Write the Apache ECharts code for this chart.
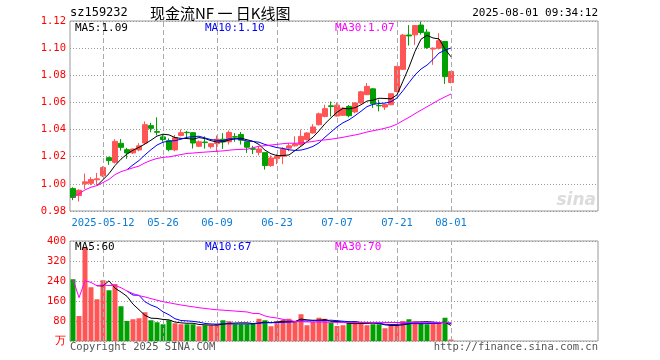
<!DOCTYPE html>
<html><head><meta charset="utf-8">
<script src="https://cdn.jsdelivr.net/npm/echarts@6/dist/echarts.min.js"></script>
<style>html,body{margin:0;padding:0;background:#fff}#c{width:660px;height:360px}</style>
</head><body><div id="c"></div>
<script>
const dates = ['2025-04-30','2025-05-06','2025-05-07','2025-05-08','2025-05-09',
'2025-05-12','2025-05-13','2025-05-14','2025-05-15','2025-05-16',
'2025-05-19','2025-05-20','2025-05-21','2025-05-22','2025-05-23',
'2025-05-26','2025-05-27','2025-05-28','2025-05-29','2025-05-30',
'2025-06-03','2025-06-04','2025-06-05','2025-06-06',
'2025-06-09','2025-06-10','2025-06-11','2025-06-12','2025-06-13',
'2025-06-16','2025-06-17','2025-06-18','2025-06-19','2025-06-20',
'2025-06-23','2025-06-24','2025-06-25','2025-06-26','2025-06-27',
'2025-06-30','2025-07-01','2025-07-02','2025-07-03','2025-07-04',
'2025-07-07','2025-07-08','2025-07-09','2025-07-10','2025-07-11',
'2025-07-14','2025-07-15','2025-07-16','2025-07-17','2025-07-18',
'2025-07-21','2025-07-22','2025-07-23','2025-07-24','2025-07-25',
'2025-07-28','2025-07-29','2025-07-30','2025-07-31','2025-08-01'];
const opens = [0.9965,0.9914,1.0000,1.0004,1.0030,1.0059,1.0193,1.0159,1.0299,1.0252,
1.0228,1.0250,1.0301,1.0429,1.0385,1.0346,1.0318,1.0250,1.0357,1.0380,
1.0377,1.0277,1.0308,1.0274,1.0296,1.0329,1.0310,1.0348,1.0363,1.0310,
1.0259,1.0232,1.0230,1.0135,1.0186,1.0203,1.0263,1.0280,1.0289,1.0326,
1.0375,1.0436,1.0497,1.0575,1.0500,1.0505,1.0571,1.0530,1.0596,1.0657,
1.0700,1.0578,1.0566,1.0583,1.0680,1.0844,1.1097,1.1098,1.1170,1.1118,
1.0993,1.1000,1.1049,1.0747];
const closes = [0.9900,0.9953,1.0015,1.0032,1.0037,1.0120,1.0171,1.0313,1.0269,1.0228,
1.0257,1.0280,1.0436,1.0409,1.0380,1.0326,1.0252,1.0340,1.0377,1.0377,
1.0301,1.0310,1.0304,1.0296,1.0329,1.0309,1.0379,1.0344,1.0322,1.0270,
1.0255,1.0257,1.0135,1.0191,1.0203,1.0257,1.0280,1.0294,1.0350,1.0375,
1.0419,1.0516,1.0554,1.0570,1.0580,1.0558,1.0502,1.0596,1.0678,1.0718,
1.0590,1.0575,1.0584,1.0664,1.0865,1.1096,1.1090,1.1166,1.1115,1.1005,
1.1000,1.1055,1.0790,1.0828];
const lows = [0.9880,0.9870,0.9963,0.9990,0.9990,1.0050,1.0140,1.0150,1.0245,1.0184,
1.0220,1.0240,1.0290,1.0380,1.0357,1.0310,1.0240,1.0240,1.0350,1.0340,
1.0260,1.0270,1.0260,1.0260,1.0237,1.0257,1.0290,1.0310,1.0290,1.0228,
1.0220,1.0210,1.0105,1.0125,1.0145,1.0145,1.0240,1.0275,1.0280,1.0320,
1.0370,1.0430,1.0490,1.0497,1.0495,1.0500,1.0490,1.0520,1.0590,1.0655,
1.0560,1.0534,1.0545,1.0580,1.0675,1.0840,1.1020,1.1024,1.1100,1.0995,
1.0877,1.0990,1.0737,1.0740];
const highs = [0.9975,0.9960,1.0076,1.0050,1.0080,1.0130,1.0200,1.0330,1.0330,1.0265,
1.0260,1.0300,1.0460,1.0450,1.0490,1.0360,1.0335,1.0360,1.0400,1.0390,
1.0380,1.0320,1.0350,1.0300,1.0356,1.0374,1.0394,1.0374,1.0382,1.0310,
1.0280,1.0280,1.0230,1.0210,1.0220,1.0270,1.0300,1.0351,1.0400,1.0380,
1.0440,1.0525,1.0583,1.0607,1.0600,1.0565,1.0580,1.0600,1.0685,1.0742,
1.0705,1.0620,1.0590,1.0668,1.0870,1.1105,1.1170,1.1170,1.1196,1.1140,
1.1005,1.1110,1.1050,1.0830];
const volumes = [247,100,376,215,167,243,203,228,139,80,
87,91,115,83,75,67,83,71,67,67,
67,59,63,63,67,83,79,67,67,67,
69,89,83,59,79,85,89,79,107,63,
76,93,89,72,60,63,72,80,75,63,
67,67,51,63,63,80,87,80,72,67,
72,72,93,6];
const labelDates = ['2025-05-12','2025-05-26','2025-06-09','2025-06-23','2025-07-07','2025-07-21','2025-08-01'];
const tickLabels = ['2025-05-12','05-26','06-09','06-23','07-07','07-21','08-01'];
const maLabelsPrice = ['MA5:1.09','MA10:1.10','MA30:1.07'];
const maLabelsVol = ['MA5:60','MA10:67','MA30:70'];
const SLOTS = 88;

const RED = '#ff5555', GREEN = '#00a000';
const MONO = '"DejaVu Sans Mono", monospace';

const cats = dates.slice();
for (let i = dates.length; i < SLOTS; i++) cats.push('_' + i);

function ma(arr, n, cumulative) {
  const out = [];
  for (let i = 0; i < arr.length; i++) {
    if (i < n - 1 && !cumulative) { out.push('-'); continue; }
    const s = Math.max(0, i - n + 1);
    let sum = 0;
    for (let j = s; j <= i; j++) sum += arr[j];
    out.push(+(sum / (i - s + 1)).toFixed(4));
  }
  return out;
}

const kData = dates.map((d, i) => [opens[i], closes[i], lows[i], highs[i]]);
const vData = volumes.map((v, i) => ({ value: v, itemStyle: { color: closes[i] >= opens[i] ? RED : GREEN } }));

const vLines = {
  symbol: 'none', silent: true, animation: false, label: { show: false },
  lineStyle: { type: [5, 3], color: '#aaaaaa', width: 1 },
  data: labelDates.map(d => ({ xAxis: d }))
};
const dotted = { lineStyle: { type: [1, 2], color: '#999', width: 1 } };

function lineSeries(data, color, xi) {
  return { type: 'line', data, xAxisIndex: xi, yAxisIndex: xi, showSymbol: false, symbol: 'none',
    lineStyle: { color, width: 1 }, silent: true, z: 5 };
}

function txt(text, x, y, color, size, align, family) {
  return { type: 'text', silent: true, z: 100, style: { text, x, y, fill: color,
    font: size + 'px ' + (family || MONO), textAlign: align || 'left', textVerticalAlign: 'middle' } };
}

const chart = echarts.init(document.getElementById('c'), null, { renderer: 'canvas' });
chart.setOption({
  animation: false,
  backgroundColor: '#fff',
  grid: [
    { left: 70, top: 21, width: 528, height: 190, show: true, borderColor: '#999', borderWidth: 1 },
    { left: 70, top: 241, width: 528, height: 100, show: true, borderColor: '#999', borderWidth: 1 }
  ],
  xAxis: [
    { type: 'category', gridIndex: 0, data: cats, boundaryGap: true,
      axisLine: { show: false }, axisTick: { show: false }, splitLine: { show: false },
      axisLabel: { margin: 7, color: '#0a7bd6', fontFamily: MONO, fontSize: 10.5,
        interval: (i, v) => labelDates.indexOf(v) >= 0,
        formatter: v => { const k = labelDates.indexOf(v); return k >= 0 ? tickLabels[k] : ''; } } },
    { type: 'category', gridIndex: 1, data: cats, boundaryGap: true,
      axisLine: { show: false }, axisTick: { show: false }, axisLabel: { show: false }, splitLine: { show: false } }
  ],
  yAxis: [
    { type: 'value', gridIndex: 0, min: 0.98, max: 1.12, interval: 0.02, scale: true,
      axisLine: { show: false }, axisTick: { show: false }, splitLine: dotted,
      axisLabel: { margin: 4, color: '#ff0000', fontFamily: MONO, fontSize: 10.5, formatter: v => v.toFixed(2) } },
    { type: 'value', gridIndex: 1, min: 0, max: 400, interval: 80,
      axisLine: { show: false }, axisTick: { show: false }, splitLine: dotted,
      axisLabel: { margin: 4, fontFamily: MONO, fontSize: 10.5,
        color: v => (v === 0 ? '#bbbbbb' : '#ff0000'),
        formatter: v => (v === 0 ? '万' : String(v)) } }
  ],
  series: [
    { type: 'candlestick', xAxisIndex: 0, yAxisIndex: 0, data: kData, barWidth: 5,
      itemStyle: { color: RED, color0: GREEN, borderColor: RED, borderColor0: GREEN, borderWidth: 1 },
      markLine: vLines, z: 3 },
    lineSeries(ma(closes, 5, false), '#000000', 0),
    lineSeries(ma(closes, 10, false), '#0000ff', 0),
    lineSeries(ma(closes, 30, true), '#ff00ff', 0),
    { type: 'bar', xAxisIndex: 1, yAxisIndex: 1, data: vData, barWidth: 5, markLine: vLines, z: 3 },
    lineSeries(ma(volumes, 5, false), '#000000', 1),
    lineSeries(ma(volumes, 10, false), '#0000ff', 1),
    lineSeries(ma(volumes, 30, true), '#ff00ff', 1)
  ],
  graphic: [
    txt('sz159232', 70, 13, '#000', 12),
    txt('现金流NF 一 日K线图', 150, 13, '#000', 15, 'left', '"Noto Sans CJK SC"'),
    txt('2025-08-01 09:34:12', 598, 13, '#000', 11, 'right'),
    txt(maLabelsPrice[0], 75, 28, '#000', 11),
    txt(maLabelsPrice[1], 205, 28, '#0000ff', 11),
    txt(maLabelsPrice[2], 335, 28, '#ff00ff', 11),
    txt(maLabelsVol[0], 75, 247, '#000', 11),
    txt(maLabelsVol[1], 205, 247, '#0000ff', 11),
    txt(maLabelsVol[2], 335, 247, '#ff00ff', 11),
    txt('Copyright 2025 SINA.COM', 70, 347, '#555', 10.5),
    txt('http://finance.sina.com.cn', 598, 347, '#555', 10.5, 'right'),
    { type: 'text', silent: true, z: 1, style: { text: 'sina', x: 596, y: 201, fill: '#dcdcdc',
      font: 'italic bold 17px "DejaVu Sans", sans-serif', textAlign: 'right', textVerticalAlign: 'middle' } }
  ]
});
</script>
</body></html>
